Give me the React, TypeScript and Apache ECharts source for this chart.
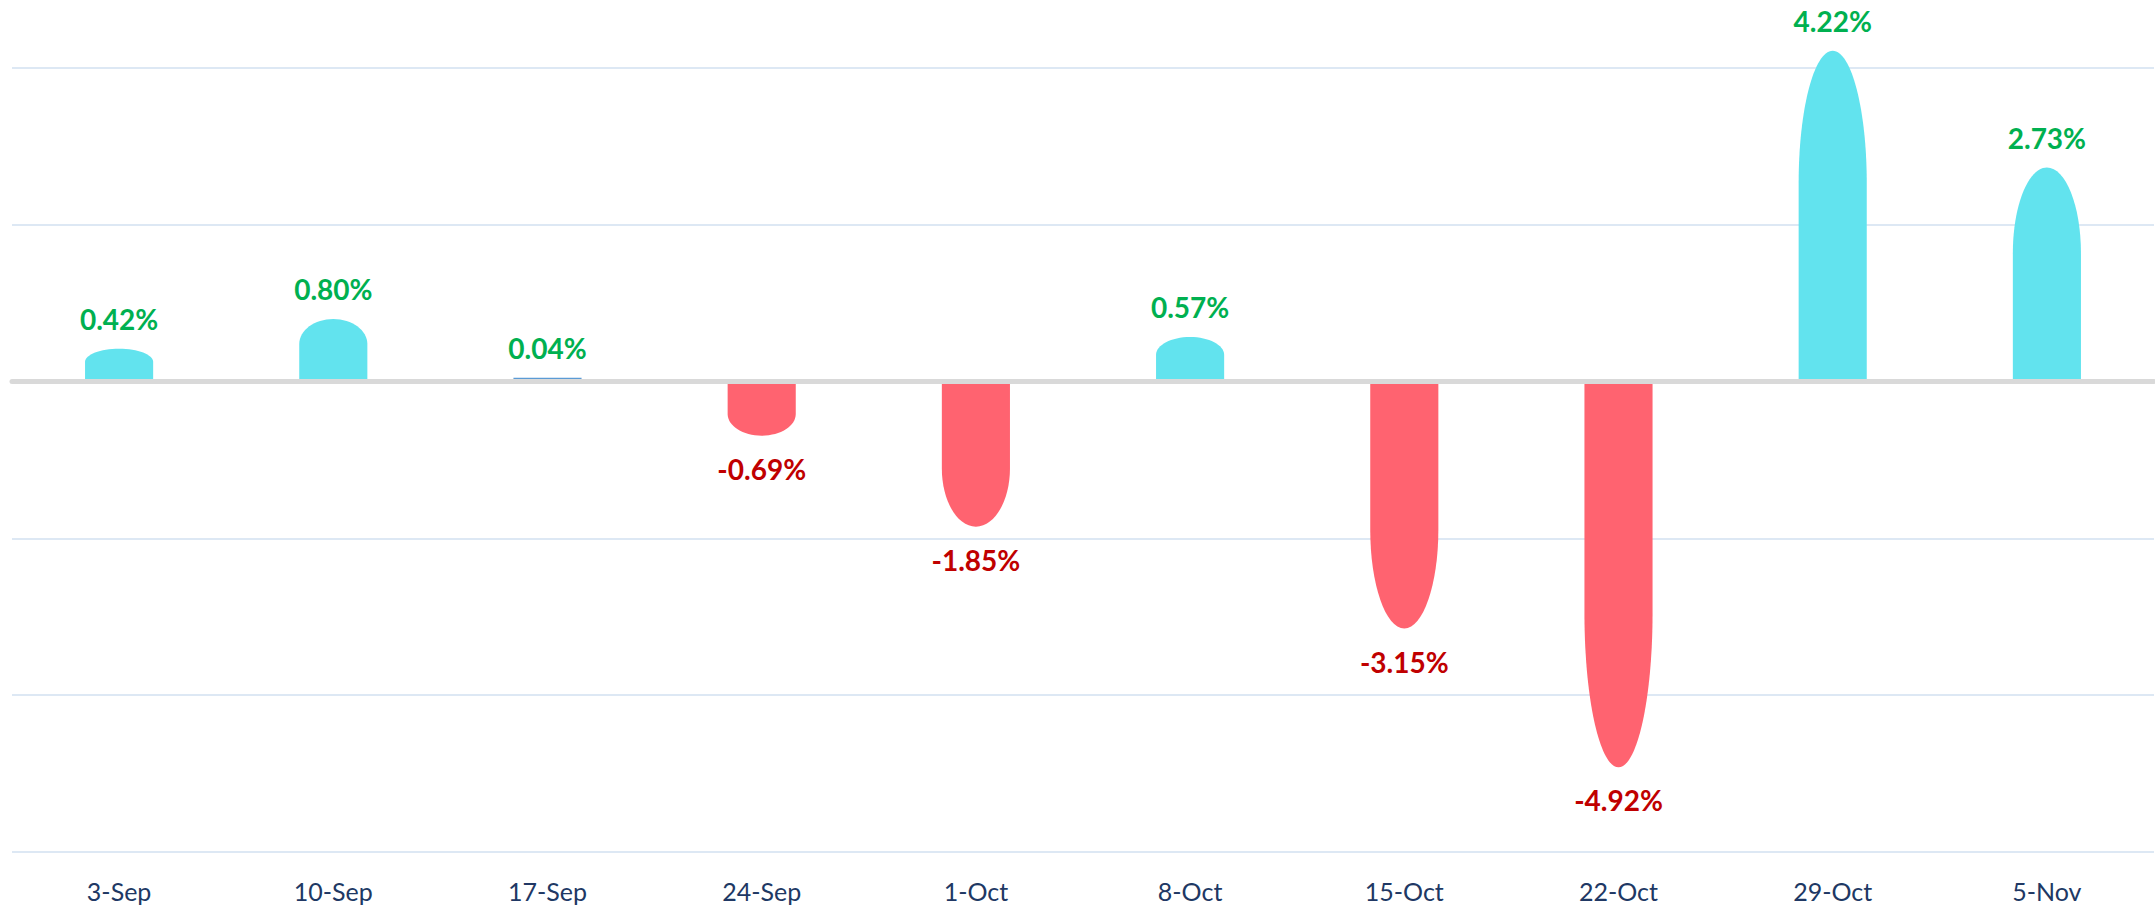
import React, { useEffect, useRef } from "react";
import * as echarts from "echarts";

const categories = ["3-Sep", "10-Sep", "17-Sep", "24-Sep", "1-Oct", "8-Oct", "15-Oct", "22-Oct", "29-Oct", "5-Nov"];
const returnsPct = [0.42, 0.8, 0.04, -0.69, -1.85, 0.57, -3.15, -4.92, 4.22, 2.73];
const yMin = -6;
const yMax = 4;
const yInterval = 2;

const POS_FILL = "#62E3EE";
const NEG_FILL = "#FF6370";
const POS_TEXT = "#00B050";
const NEG_TEXT = "#C00000";
const THIN_EDGE = "#5B9BD5";

export default function App() {
  const ref = useRef<HTMLDivElement | null>(null);

  useEffect(() => {
    if (!ref.current) return;
    const chart = echarts.init(ref.current, undefined, { renderer: "svg" });
    const k = 0.5523;
    const option: any = {
      animation: false,
      backgroundColor: "#ffffff",
      grid: { left: 12, right: 1, top: 68, bottom: 56, containLabel: false },
      xAxis: [
        {
          type: "category",
          data: categories,
          position: "bottom",
          axisLine: { show: false, onZero: false },
          axisTick: { show: false },
          axisLabel: {
            color: "#203864",
            fontFamily: "Lato",
            fontSize: 25,
            margin: 26,
          },
          splitLine: { show: false },
        },
        {
          type: "category",
          data: categories,
          position: "top",
          z: 10,
          axisLine: { show: true, onZero: true, lineStyle: { color: "#D9D9D9", width: 5 } },
          axisTick: { show: false },
          axisLabel: { show: false },
          splitLine: { show: false },
        },
      ],
      yAxis: {
        type: "value",
        min: yMin,
        max: yMax,
        interval: yInterval,
        axisLine: { show: false },
        axisTick: { show: false },
        axisLabel: { show: false },
        splitLine: { show: true, lineStyle: { color: "#DDE8F4", width: 2 } },
      },
      series: [
        {
          type: "custom",
          xAxisIndex: 0,
          yAxisIndex: 0,
          encode: { x: 0, y: 1 },
          data: returnsPct.map((v, i) => [i, v]),
          renderItem: (params: any, api: any) => {
            const idx = api.value(0);
            const v = api.value(1);
            const base = api.coord([idx, 0]);
            const tip = api.coord([idx, v]);
            const bw = api.size([1, 0])[0] * 0.318;
            const cx = base[0];
            const x0 = cx - bw / 2;
            const x1 = cx + bw / 2;
            const rx = bw / 2;
            const y0 = base[1];
            const yt = tip[1];
            const yc = y0 + (yt - y0) * 0.6;
            const cy = yc + k * (yt - yc);
            const d =
              `M${x0},${y0} L${x0},${yc} ` +
              `C${x0},${cy} ${cx - k * rx},${yt} ${cx},${yt} ` +
              `C${cx + k * rx},${yt} ${x1},${cy} ${x1},${yc} ` +
              `L${x1},${y0} Z`;
            const pos = v >= 0;
            const children: any[] = [
              {
                type: "path",
                shape: { pathData: d },
                style: { fill: pos ? POS_FILL : NEG_FILL },
              },
            ];
            if (Math.abs(yt - y0) < 4) {
              children.push({
                type: "line",
                shape: { x1: x0, y1: yt, x2: x1, y2: yt },
                style: { stroke: THIN_EDGE, lineWidth: 1.5 },
              });
            }
            children.push({
              type: "text",
              x: cx,
              y: yt + (pos ? -30 : 33),
              style: {
                text: v.toFixed(2) + "%",
                fill: pos ? POS_TEXT : NEG_TEXT,
                fontFamily: "Lato",
                fontWeight: "bold",
                fontSize: 28,
                align: "center",
                verticalAlign: "middle",
              },
            });
            return { type: "group", children };
          },
        },
      ],
    };
    chart.setOption(option);
    return () => chart.dispose();
  }, []);

  return (
    <div
      ref={ref}
      style={{ position: "fixed", left: 0, top: 0, width: 2155, height: 908, background: "#fff" }}
    />
  );
}
